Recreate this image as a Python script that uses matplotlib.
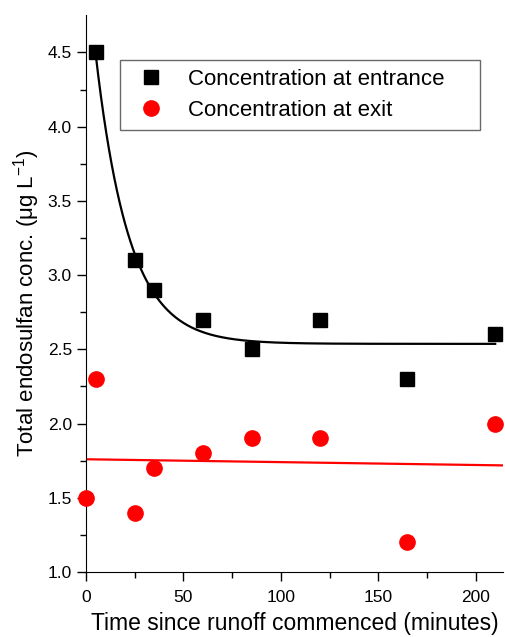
import numpy as np
import matplotlib.pyplot as plt

plt.rcParams['font.family'] = ['Liberation Sans', 'DejaVu Sans']
plt.rcParams['mathtext.fontset'] = 'custom'
plt.rcParams['mathtext.rm'] = 'Liberation Sans'
plt.rcParams['mathtext.default'] = 'regular'

# sampling times (minutes) and measured concentrations (ug/L)
t_entrance = [5, 25, 35, 60, 85, 120, 165, 210]
c_entrance = [4.5, 3.1, 2.9, 2.7, 2.5, 2.7, 2.3, 2.6]
t_exit = [0, 5, 25, 35, 60, 85, 120, 165, 210]
c_exit = [1.5, 2.3, 1.4, 1.7, 1.8, 1.9, 1.9, 1.2, 2.0]

xe = np.array(t_entrance, dtype=float)
ye = np.array(c_entrance, dtype=float)
xo = np.array(t_exit, dtype=float)
yo = np.array(c_exit, dtype=float)

# exponential decay fit y = y0 + A*exp(-x/tau): scan tau, solve y0, A by least squares
best = None
for tau in np.linspace(2, 60, 2000):
    M = np.column_stack([np.ones_like(xe), np.exp(-xe / tau)])
    coef, *_ = np.linalg.lstsq(M, ye, rcond=None)
    err = np.sum((M @ coef - ye) ** 2)
    if best is None or err < best[0]:
        best = (err, tau, coef)
_, tau, (y0, amp) = best
xf = np.linspace(xe.min(), xe.max(), 300)
yf = y0 + amp * np.exp(-xf / tau)

# linear fit for the exit series
slope, icpt = np.polyfit(xo, yo, 1)
xl = np.array([0, 214])

fig = plt.figure(figsize=(5.05, 6.37), dpi=100)
ax = fig.add_axes([0.170, 0.102, 0.826, 0.874])

ax.plot(xf, yf, color='black', linewidth=1.6)
ax.plot(xl, icpt + slope * xl, color='red', linewidth=1.6)
ax.plot(xe, ye, 's', color='black', markersize=9.5, linestyle='none',
        label='Concentration at entrance', clip_on=False, zorder=5)
ax.plot(xo, yo, 'o', color='red', markersize=11, linestyle='none',
        label='Concentration at exit', clip_on=False, zorder=5)

ax.set_xlim(0, 214)
ax.set_ylim(1.0, 4.75)
ax.set_xticks([0, 50, 100, 150, 200])
ax.set_xticks([25, 75, 125, 175], minor=True)
ax.set_yticks([1.0, 1.5, 2.0, 2.5, 3.0, 3.5, 4.0, 4.5])
ax.set_yticks([1.25, 1.75, 2.25, 2.75, 3.25, 3.75, 4.25], minor=True)
ax.yaxis.set_major_formatter(plt.FormatStrFormatter('%.1f'))

ax.spines['top'].set_visible(False)
ax.spines['right'].set_visible(False)
ax.tick_params(which='major', direction='out', length=6.5, width=1,
               labelsize=12.5, pad=3.5)
ax.tick_params(axis='x', which='major', pad=6.5)
ax.tick_params(which='minor', direction='out', length=4, width=1)

ax.set_xlabel('Time since runoff commenced (minutes)', fontsize=16.5, labelpad=5)
ax.set_ylabel('Total endosulfan conc. (\u03bcg L$^{-1}$)', fontsize=16)
ax.yaxis.set_label_coords(-0.104, 0.483)

leg = ax.legend(loc='upper left', bbox_to_anchor=(0.082, 0.794, 0.863, 0.125),
                mode='expand', fancybox=False, edgecolor='#444444', fontsize=16,
                handletextpad=0.65, borderpad=0.4, labelspacing=0.45,
                handlelength=2.0, borderaxespad=0)
leg.get_frame().set_linewidth(1)

fig.savefig('out.png', dpi=100)
